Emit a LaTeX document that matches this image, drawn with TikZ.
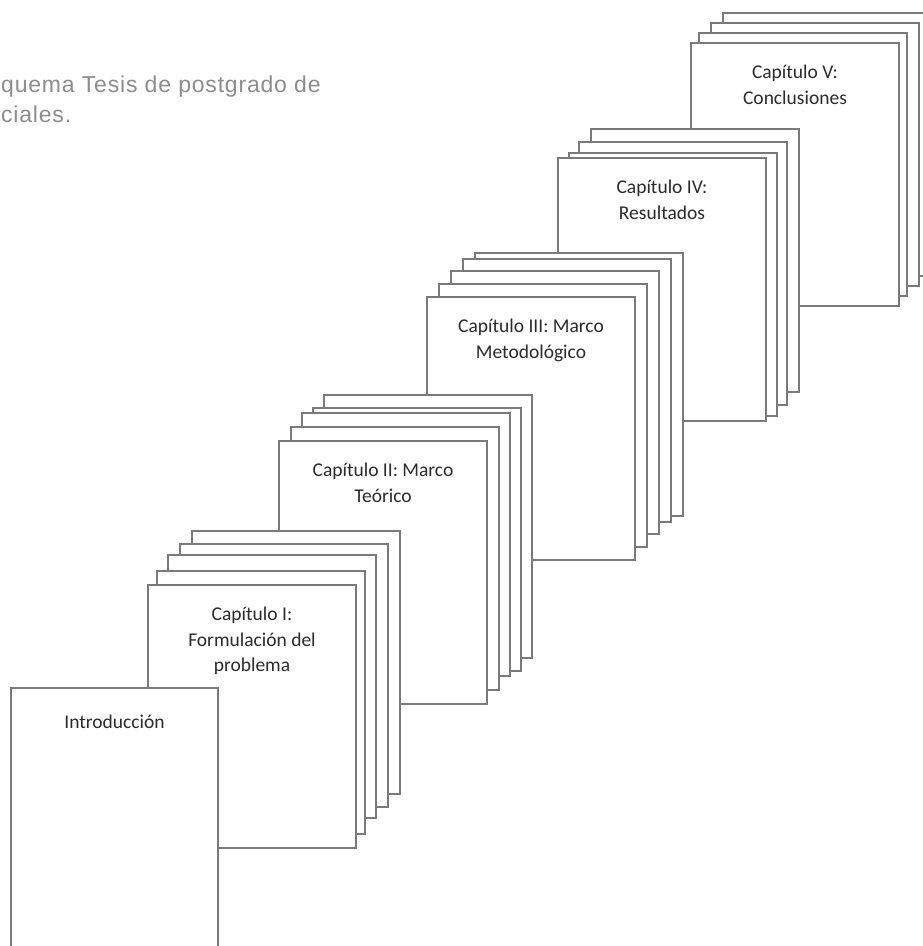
\documentclass[tikz,border=0pt]{standalone}
\usepackage{fontspec}
\setmainfont{Carlito}
\newfontfamily\arialfont[LetterSpace=3.5]{Liberation Sans}
\usetikzlibrary{positioning}

\definecolor{borde}{HTML}{7A7A7A}
\definecolor{gristitulo}{HTML}{8C8C8C}
\definecolor{tinta}{HTML}{2B2B2B}

\tikzset{
  hoja/.style={rectangle, draw=borde, fill=white, line width=1.8pt,
    anchor=north west, minimum width=208pt, minimum height=263pt,
    inner sep=0pt, outer sep=0pt},
  rotulo/.style={align=center, text=tinta, inner sep=0pt,
    font=\fontsize{19.5}{25.5}\selectfont},
  encabezado/.style={align=left, anchor=north west, text=gristitulo,
    inner sep=0pt, font=\arialfont\fontsize{23}{30}\selectfont}
}

\begin{document}
\begin{tikzpicture}[x=1pt, y=-1pt]
        \useasboundingbox (0,0) rectangle (923,946);

        \node[encabezado] (titulo) at (1,76) {quema Tesis de postgrado de\\ciales.};

        % Capitulo V
        \node[hoja] (v4) at (723,13) {};
        \node[hoja] (v3) at (711,23) {};
        \node[hoja] (v2) at (699,33) {};
        \node[hoja] (v1) at (691,43) {};
        \node[rotulo, below=22pt of v1.north] (tv) {Capítulo V:\\Conclusiones};

        % Capitulo IV
        \node[hoja] (iv4) at (591,129) {};
        \node[hoja] (iv3) at (579,142) {};
        \node[hoja] (iv2) at (569,153) {};
        \node[hoja] (iv1) at (558,158) {};
        \node[rotulo, below=22pt of iv1.north] (tiv) {Capítulo IV:\\Resultados};

        % Capitulo III
        \node[hoja] (iii5) at (475,253) {};
        \node[hoja] (iii4) at (463,259) {};
        \node[hoja] (iii3) at (451,271) {};
        \node[hoja] (iii2) at (439,284) {};
        \node[hoja] (iii1) at (427,297) {};
        \node[rotulo, below=22pt of iii1.north] (tiii) {Capítulo III: Marco\\Metodológico};

        % Capitulo II
        \node[hoja] (ii5) at (324,395) {};
        \node[hoja] (ii4) at (313,408) {};
        \node[hoja] (ii3) at (302,413) {};
        \node[hoja] (ii2) at (291,427) {};
        \node[hoja] (ii1) at (279,441) {};
        \node[rotulo, below=22pt of ii1.north] (tii) {Capítulo II: Marco\\Teórico};

        % Capitulo I
        \node[hoja] (i5) at (192,531) {};
        \node[hoja] (i4) at (180,544) {};
        \node[hoja] (i3) at (168,555) {};
        \node[hoja] (i2) at (157,571) {};
        \node[hoja] (i1) at (148,585) {};
        \node[rotulo, below=22pt of i1.north] (ti) {Capítulo I:\\Formulación del\\problema};

        % Introduccion
        \node[hoja, minimum width=207pt, minimum height=300pt] (intro) at (11,688) {};
        \node[rotulo, below=27pt of intro.north] (tintro) {Introducción};
\end{tikzpicture}
\end{document}
